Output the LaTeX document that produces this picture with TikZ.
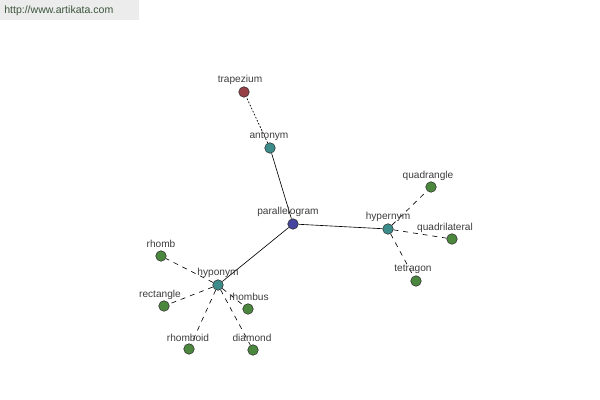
\documentclass[tikz,border=0pt]{standalone}
\usepackage{fontspec}
\setmainfont{Liberation Sans}
\usetikzlibrary{positioning}

\definecolor{hubblue}{RGB}{70,70,160}
\definecolor{relteal}{RGB}{60,140,140}
\definecolor{leafgreen}{RGB}{75,135,60}
\definecolor{antred}{RGB}{150,65,70}
\definecolor{labelgray}{RGB}{60,60,60}
\definecolor{markgray}{RGB}{236,236,236}
\definecolor{markgreen}{RGB}{60,85,60}

\tikzset{
  word/.style={circle, draw=black!80, line width=0.4pt, inner sep=0pt, minimum size=7.5pt},
  lbl/.style={font=\fontsize{7.2}{8}\selectfont, text=labelgray, inner sep=0pt},
  syn/.style={dash pattern=on 3.5pt off 3.5pt, line width=0.45pt},
}

\begin{document}
\begin{tikzpicture}[x=0.025cm, y=-0.025cm]
    \useasboundingbox (0,0) rectangle (600,400);
    \fill[markgray] (0,0) rectangle (139,20);
    \node[font=\fontsize{7.5}{9}\selectfont, text=markgreen, anchor=west, inner sep=0pt] (site) at (4,11) {http://www.artikata.com};

    % word nodes
    \node[word, fill=hubblue] (parallelogram) at (293,224) {};
    \node[word, fill=relteal] (antonym) at (270,148) {};
    \node[word, fill=relteal] (hypernym) at (388,229) {};
    \node[word, fill=relteal] (hyponym) at (218,285) {};
    \node[word, fill=antred] (trapezium) at (244,92) {};
    \node[word, fill=leafgreen] (quadrangle) at (431,187) {};
    \node[word, fill=leafgreen] (quadrilateral) at (452,239) {};
    \node[word, fill=leafgreen] (tetragon) at (416,281) {};
    \node[word, fill=leafgreen] (rhomb) at (161,256) {};
    \node[word, fill=leafgreen] (rectangle) at (164,306) {};
    \node[word, fill=leafgreen] (rhombus) at (248,309) {};
    \node[word, fill=leafgreen] (rhomboid) at (189,349) {};
    \node[word, fill=leafgreen] (diamond) at (253,350) {};

    % connectors
    \draw[line width=0.45pt] (parallelogram) -- (antonym);
    \draw[line width=0.45pt] (parallelogram) -- (hypernym);
    \draw[line width=0.45pt] (parallelogram) -- (hyponym);
    \draw[dash pattern=on 1.2pt off 1.2pt, line width=0.5pt] (antonym) -- (trapezium);
    \draw[syn] (hypernym) -- (quadrangle);
    \draw[syn] (hypernym) -- (quadrilateral);
    \draw[syn] (hypernym) -- (tetragon);
    \draw[syn] (hyponym) -- (rhomb);
    \draw[syn] (hyponym) -- (rectangle);
    \draw[syn] (hyponym) -- (rhombus);
    \draw[syn] (hyponym) -- (rhomboid);
    \draw[syn] (hyponym) -- (diamond);

    % labels
    \node[lbl] (lparallelogram) at (288,212) {parallelogram};
    \node[lbl] (lantonym) at (269,136) {antonym};
    \node[lbl] (lhypernym) at (388,217) {hypernym};
    \node[lbl] (lhyponym) at (218,273) {hyponym};
    \node[lbl] (ltrapezium) at (240,80) {trapezium};
    \node[lbl] (lquadrangle) at (428,176) {quadrangle};
    \node[lbl] (lquadrilateral) at (445,228) {quadrilateral};
    \node[lbl] (ltetragon) at (413,269) {tetragon};
    \node[lbl] (lrhomb) at (161,244) {rhomb};
    \node[lbl] (lrectangle) at (160,295) {rectangle};
    \node[lbl] (lrhombus) at (249,297) {rhombus};
    \node[lbl] (lrhomboid) at (188,338) {rhomboid};
    \node[lbl] (ldiamond) at (252,338) {diamond};
\end{tikzpicture}
\end{document}
